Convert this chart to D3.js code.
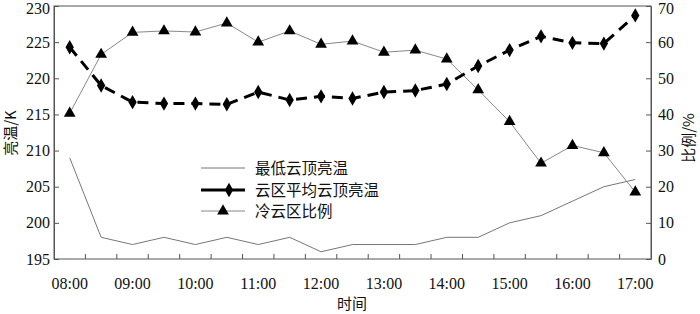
<!DOCTYPE html>
<html><head><meta charset="utf-8">
<script src="https://cdn.jsdelivr.net/npm/d3@7"></script>
<style>body{margin:0;background:#fff}svg{display:block}</style>
</head><body>
<svg id="c" width="700" height="314"></svg>
<script>
const times = ["08:00","08:30","09:00","09:30","10:00","10:30","11:00","11:30","12:00","12:30","13:00","13:30","14:00","14:30","15:00","15:30","16:00","16:30","17:00"];
const minTemp = [209,198,197,198,197,198,197,198,196,197,197,197,198,198,200,201,203,205,206];
const meanTemp = [224.3,219,216.7,216.5,216.5,216.4,218.1,217,217.5,217.2,218.1,218.3,219.2,221.7,223.9,225.8,224.9,224.8,228.7];
const coldRatio = [40.3,56.6,62.7,63.1,62.8,65.3,60,63.1,59.4,60.3,57.2,57.8,55.3,46.8,38,26.5,31.4,29.4,18.5];
const leftTicks = [195,200,205,210,215,220,225,230];
const rightTicks = [0,10,20,30,40,50,60,70];
const xLabels = ["08:00","09:00","10:00","11:00","12:00","13:00","14:00","15:00","16:00","17:00"];
const legendNames = ["最低云顶亮温","云区平均云顶亮温","冷云区比例"];

const svg = d3.select("#c");
const L=54,R=651,T=6,B=259;
const serif = "'Liberation Serif','Times New Roman',serif";
const cjk = "'Noto Sans CJK SC',sans-serif";
const axisColor = "#555";

const x = d3.scaleBand().domain(times).range([L,R]);
const cx = d => x(d)+x.bandwidth()/2;
const yL = d3.scaleLinear().domain([195,230]).range([B,T]);
const yR = d3.scaleLinear().domain([0,70]).range([B,T]);

// frame
svg.append("rect").attr("x",L).attr("y",T).attr("width",R-L).attr("height",B-T)
  .attr("fill","none").attr("stroke",axisColor).attr("stroke-width",1);

// left axis
const gl = svg.append("g").attr("transform",`translate(${L},0)`)
  .call(d3.axisLeft(yL).tickValues(leftTicks).tickSizeInner(-5).tickSizeOuter(0).tickPadding(4));
gl.select(".domain").attr("stroke",axisColor);
gl.selectAll(".tick line").attr("stroke",axisColor);
gl.selectAll("text").attr("font-family",serif).attr("font-size",16).attr("fill","#111").attr("x",-4)
  .attr("dy",d=>d===230?"0.45em":"0.32em");

// right axis
const gr = svg.append("g").attr("transform",`translate(${R},0)`)
  .call(d3.axisRight(yR).tickValues(rightTicks).tickSizeInner(-5).tickSizeOuter(0).tickPadding(4));
gr.select(".domain").attr("stroke",axisColor);
gr.selectAll(".tick line").attr("stroke",axisColor);
gr.selectAll("text").attr("font-family",serif).attr("font-size",16).attr("fill","#111").attr("x",7)
  .attr("dy",d=>d===70?"0.45em":"0.32em");

// bottom axis: ticks at band boundaries
const gb = svg.append("g");
gb.selectAll("line.t").data(times.slice(1)).join("line")
  .attr("x1",d=>x(d)).attr("x2",d=>x(d)).attr("y1",B).attr("y2",B-5)
  .attr("stroke",axisColor);
gb.selectAll("text").data(xLabels).join("text")
  .attr("x",d=>cx(d)).attr("y",289).attr("text-anchor","middle")
  .attr("font-family",serif).attr("font-size",16).attr("fill","#111").text(d=>d);

// axis titles
svg.append("text").attr("transform","translate(16,133) rotate(-90)").attr("text-anchor","middle")
  .attr("font-family",cjk).attr("font-size",15).attr("fill","#111").text("亮温/K");
svg.append("text").attr("transform","translate(694,138) rotate(-90)").attr("text-anchor","middle")
  .attr("font-family",cjk).attr("font-size",15).attr("fill","#111").text("比例/%");
svg.append("text").attr("x",352).attr("y",309).attr("text-anchor","middle")
  .attr("font-family",cjk).attr("font-size",15).attr("fill","#111").text("时间");

// lines
const lineL = d3.line().x((d,i)=>cx(times[i])).y(d=>yL(d));
const lineR = d3.line().x((d,i)=>cx(times[i])).y(d=>yR(d));

svg.append("path").attr("d",lineL(minTemp)).attr("fill","none").attr("stroke","#777").attr("stroke-width",1);
svg.append("path").attr("d",lineR(coldRatio)).attr("fill","none").attr("stroke","#888").attr("stroke-width",1);
svg.append("path").attr("d",lineL(meanTemp)).attr("fill","none").attr("stroke","#000").attr("stroke-width",3)
  .attr("stroke-dasharray","11,7");

const tri = d3.symbol().type(d3.symbolTriangle).size(60);
const dia = d3.symbol().type(d3.symbolDiamond).size(60);
svg.selectAll("path.tri").data(coldRatio).join("path").attr("class","tri")
  .attr("transform",(d,i)=>`translate(${cx(times[i])},${yR(d)})`).attr("d",tri).attr("fill","#000");
svg.selectAll("path.dia").data(meanTemp).join("path").attr("class","dia")
  .attr("transform",(d,i)=>`translate(${cx(times[i])},${yL(d)})`).attr("d",dia).attr("fill","#000");

// legend
const lg = svg.append("g");
const rows = [168,190,211];
lg.append("line").attr("x1",201).attr("x2",245).attr("y1",rows[0]).attr("y2",rows[0]).attr("stroke","#777").attr("stroke-width",1);
lg.append("line").attr("x1",201).attr("x2",245).attr("y1",rows[1]).attr("y2",rows[1]).attr("stroke","#000").attr("stroke-width",3);
lg.append("path").attr("transform",`translate(229,${rows[1]})`).attr("d",dia).attr("fill","#000");
lg.append("line").attr("x1",201).attr("x2",245).attr("y1",rows[2]).attr("y2",rows[2]).attr("stroke","#888").attr("stroke-width",1);
lg.append("path").attr("transform",`translate(223,${rows[2]})`).attr("d",tri).attr("fill","#000");
lg.selectAll("text").data(legendNames).join("text")
  .attr("x",255).attr("y",(d,i)=>rows[i]+5.5).attr("font-family",cjk).attr("font-size",15.5).attr("fill","#111").text(d=>d);
</script>
</body></html>
